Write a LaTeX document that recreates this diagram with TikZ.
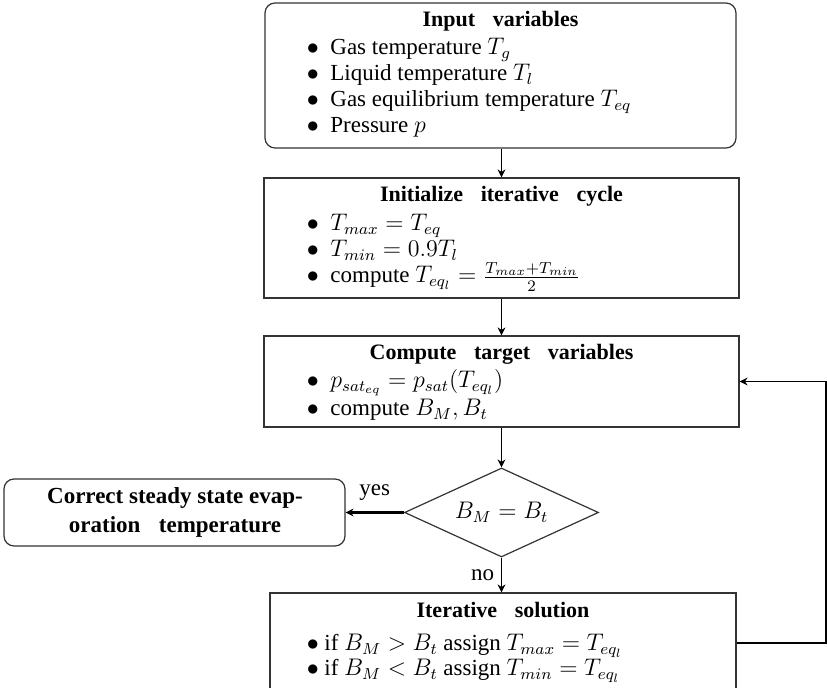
\documentclass[tikz,border=0pt]{standalone}
\usepackage{fontspec}
\setmainfont{Liberation Serif}
\usetikzlibrary{positioning,shapes.geometric,arrows.meta,fit}
\newcommand{\itm}[2][11.75pt]{\makebox[#1][l]{$\bullet$}#2}
\newcommand{\wsp}{\hspace{0.8em}}

\begin{document}
\begin{tikzpicture}[x=0.5pt,y=-0.5pt, every node/.style={font=\fontsize{11.5}{13.5}\selectfont},
  box/.style={draw=black!80,line width=0.6pt,inner sep=0pt},
  rbox/.style={box,rounded corners=5pt},
  dec/.style={diamond,draw=black!80,line width=0.6pt,aspect=2.2,minimum width=97pt,minimum height=44.5pt,inner sep=0pt},
  ttl/.style={anchor=base,inner sep=0pt,font=\fontsize{11}{13}\selectfont\bfseries},
  lst/.style={anchor=base west,inner sep=0pt},
  arr/.style={-{Stealth[length=4pt,width=4pt]},line width=0.7pt}]
\useasboundingbox (0,0) rectangle (827,688);
\clip (0,0) rectangle (827,688);

% input
\node[rbox,fit={(265,3) (736,148)}] (inp) {};
\node[ttl] (inpT) at (500.5,27) {Input\wsp variables};
\node[lst] (inp1) at (306.5,55) {\itm{Gas temperature $T_g$}};
\node[lst] (inp2) at (306.5,81) {\itm{Liquid temperature $T_l$}};
\node[lst] (inp3) at (306.5,107) {\itm{Gas equilibrium temperature $T_{eq}$}};
\node[lst] (inp4) at (306.5,133) {\itm{Pressure $p$}};

% initialization
\node[box,fit={(264,178) (739,298)}] (ini) {};
\node[ttl] (iniT) at (501.5,202) {Initialize\wsp iterative\wsp cycle};
\node[lst] (ini1) at (306.5,231) {\itm{$T_{max} = T_{eq}$}};
\node[lst] (ini2) at (306.5,257) {\itm{$T_{min} = 0.9T_l$}};
\node[lst] (ini3) at (306.5,283) {\itm{compute $T_{eq_l} = \frac{T_{max}+T_{min}}{2}$}};

% target variables
\node[box,fit={(264,336) (739,427)}] (tgt) {};
\node[ttl] (tgtT) at (501.5,360) {Compute\wsp target\wsp variables};
\node[lst] (tgt1) at (306.5,388) {\itm{$p_{sat_{eq}} = p_{sat}(T_{eq_l})$}};
\node[lst] (tgt2) at (306.5,416) {\itm{compute $B_M, B_t$}};

% check
\node[dec] (chk) at (501.5,512.5) {$B_M = B_t$};
\node[rbox,fit={(4,479) (345,546)}] (res) {};
\node[ttl,font=\fontsize{11.5}{13.5}\selectfont\bfseries] (res1) at (175,504) {Correct steady state evap-};
\node[ttl,font=\fontsize{11.5}{13.5}\selectfont\bfseries] (res2) at (175,533) {oration\wsp temperature};

% iteration
\node[box,fit={(270,593) (736,693)}] (sol) {};
\node[ttl] (solT) at (503,618) {Iterative\wsp solution};
\node[lst] (sol1) at (306.5,651) {\itm[8.75pt]{if $B_M > B_t$ assign $T_{max} = T_{eq_l}$}};
\node[lst] (sol2) at (306.5,676) {\itm[8.75pt]{if $B_M < B_t$ assign $T_{min} = T_{eq_l}$}};
\coordinate (back) at (826,643);

\draw[arr] (inp.south -| ini.north) -- (ini.north);
\draw[arr] (ini.south) -- (tgt.north);
\draw[arr] (tgt.south) -- (chk.north);
\draw[arr,line width=1.3pt] (chk.west) -- node[above=2pt] {yes} (res.east);
\draw[arr] (chk.south) -- node[left] {no} (chk.south |- sol.north);
\draw[arr] (sol.east) -- (back) |- (tgt.east);
\end{tikzpicture}
\end{document}
